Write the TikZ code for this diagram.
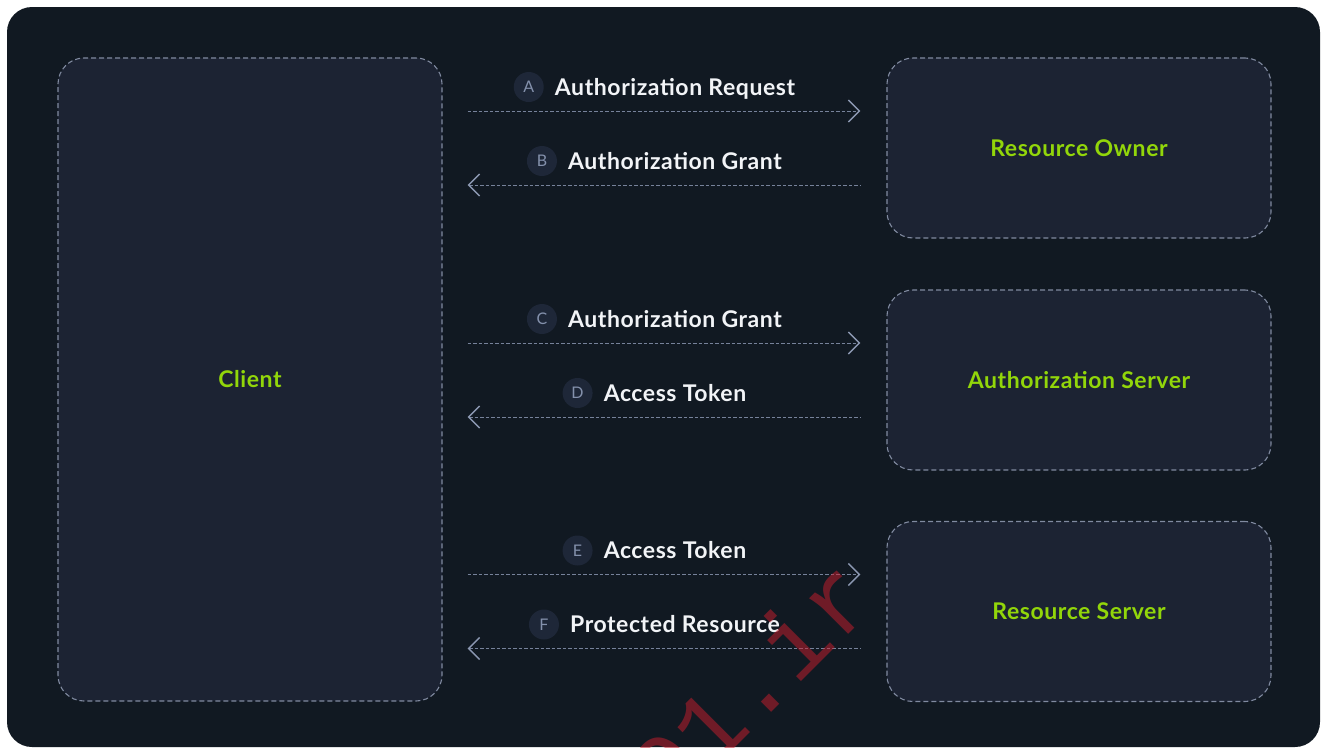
\documentclass[tikz,border=0pt]{standalone}
\usepackage{fontspec}
\setmainfont{Lato}
\newfontfamily\stampfont{Liberation Mono}
\usetikzlibrary{arrows.meta,calc}

\definecolor{panel}{RGB}{17,25,34}
\definecolor{cardfill}{RGB}{28,35,51}
\definecolor{cardedge}{RGB}{128,138,160}
\definecolor{flowcol}{RGB}{118,130,154}
\definecolor{tipcol}{RGB}{140,152,178}
\definecolor{lime}{RGB}{146,214,10}
\definecolor{badgefill}{RGB}{30,39,56}
\definecolor{badgeink}{RGB}{132,145,172}
\definecolor{ink}{RGB}{242,244,247}
\definecolor{stampcol}{RGB}{205,30,45}

\tikzset{
  card/.style={draw=cardedge, fill=cardfill, line width=1.1pt,
    dash pattern=on 5pt off 3pt, rounded corners=26pt,
    minimum width=384pt, minimum height=180pt, inner sep=0pt,
    text=lime, font=\bfseries\fontsize{23}{27}\selectfont\addfontfeatures{LetterSpace=2.5}},
  flowline/.style={draw=flowcol, line width=0.9pt, dash pattern=on 3.5pt off 2pt},
  fwd/.style={flowline, -{Straight Barb[length=11pt,width=22pt,line width=1.4pt,color=tipcol]}},
  back/.style={flowline, {Straight Barb[length=11pt,width=22pt,line width=1.4pt,color=tipcol]}-},
  tag/.style={anchor=base, inner sep=0pt, text=ink,
    font=\bfseries\fontsize{23}{27}\selectfont\addfontfeatures{LetterSpace=2.5}},
  badge/.style={circle, fill=badgefill, minimum size=30pt, inner sep=0pt,
    text=badgeink, font=\fontsize{16}{19}\selectfont}
}

\begin{document}
\begin{tikzpicture}[x=1pt, y=-1pt]
  \useasboundingbox (0,0) rectangle (1322,747);
  \fill[white] (0,0) rectangle (1322,747);
  \fill[panel, rounded corners=25pt] (7,7) rectangle (1320,747);

  % participants
  \node[card, minimum height=643pt] (client) at (250,379.5) {Client};
  \node[card] (owner)  at (1079,148) {Resource Owner};
  \node[card] (authz)  at (1079,380) {Authorization Server};
  \node[card] (rserv)  at (1079,611.5) {Resource Server};

  % end points of the message arrows, two per participant on the right
  \foreach \tgt/\up/\dn in {owner/A/B, authz/C/D, rserv/E/F}{
    \coordinate (l\up) at ($(client.east |- \tgt.west)+(25,-37)$);
    \coordinate (r\up) at ($(\tgt.west)+(-26,-37)$);
    \coordinate (l\dn) at ($(client.east |- \tgt.west)+(25,37)$);
    \coordinate (r\dn) at ($(\tgt.west)+(-26,37)$);
  }

  % messages
  \draw[fwd]  (lA) -- (rA);
  \draw[back] (lB) -- (rB);
  \draw[fwd]  (lC) -- (rC);
  \draw[back] (lD) -- (rD);
  \draw[fwd]  (lE) -- (rE);
  \draw[back] (lF) -- (rF);

  % message captions with their step letters
  \foreach \s/\txt in {A/Authorization Request, B/Authorization Grant,
                       C/Authorization Grant, D/Access Token,
                       E/Access Token, F/Protected Resource}{
    \node[tag] (t\s) at ($(l\s)!0.5!(r\s)+(11,-16)$) {\txt};
    \node[badge] (b\s) at ($(t\s.base west)+(-26,-8)$) {\s};
  }

  % site stamp
  \node[anchor=base west, rotate=45, inner sep=0pt, text=stampcol,
        opacity=0.5, font=\stampfont\fontsize{100}{100}\selectfont]
       (stamp) at (669,814) {01.ir};
\end{tikzpicture}
\end{document}
